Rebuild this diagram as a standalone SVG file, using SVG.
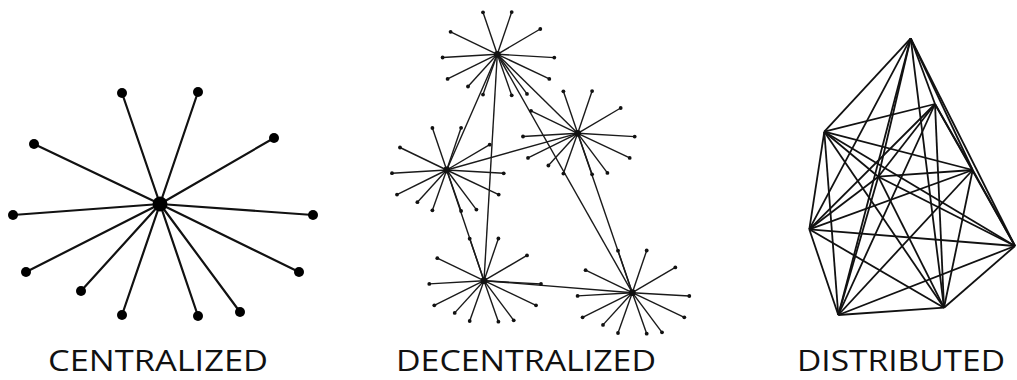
<svg xmlns="http://www.w3.org/2000/svg" xmlns:xlink="http://www.w3.org/1999/xlink" width="1017" height="380" viewBox="0 0 1017 380">
<style>
.bg{fill:#fff}
.c-line{stroke:#111;stroke-width:2.2;stroke-linecap:round}
.c-dot{fill:#000}
.d-line{stroke:#1a1a1a;stroke-width:1.4}
.d-dot{fill:#111}
.m-line{stroke:#111;stroke-width:1.8}
.label{font-family:"Open Sans","Liberation Sans",sans-serif;font-size:29px;fill:#111;text-anchor:middle}
</style>
<defs>
<g id="star">
<g class="d-line">
<line x1="0" y1="0" x2="-14.3" y2="-42"/>
<line x1="0" y1="0" x2="14.4" y2="-42.2"/>
<line x1="0" y1="0" x2="-46.7" y2="-22.5"/>
<line x1="0" y1="0" x2="43" y2="-25.3"/>
<line x1="0" y1="0" x2="-54.7" y2="3.2"/>
<line x1="0" y1="0" x2="57" y2="3.3"/>
<line x1="0" y1="0" x2="-49.7" y2="24.6"/>
<line x1="0" y1="0" x2="52" y2="24.6"/>
<line x1="0" y1="0" x2="-29.3" y2="32.2"/>
<line x1="0" y1="0" x2="-14.3" y2="40.3"/>
<line x1="0" y1="0" x2="14.4" y2="41"/>
<line x1="0" y1="0" x2="29.7" y2="39.6"/>
</g>
<g class="d-dot">
<circle cx="0" cy="0" r="3.4"/>
<circle cx="-14.3" cy="-42" r="1.9"/>
<circle cx="14.4" cy="-42.2" r="1.9"/>
<circle cx="-46.7" cy="-22.5" r="1.9"/>
<circle cx="43" cy="-25.3" r="1.9"/>
<circle cx="-54.7" cy="3.2" r="1.9"/>
<circle cx="57" cy="3.3" r="1.9"/>
<circle cx="-49.7" cy="24.6" r="1.9"/>
<circle cx="52" cy="24.6" r="1.9"/>
<circle cx="-29.3" cy="32.2" r="1.9"/>
<circle cx="-14.3" cy="40.3" r="1.9"/>
<circle cx="14.4" cy="41" r="1.9"/>
<circle cx="29.7" cy="39.6" r="1.9"/>
</g>
</g>
</defs>
<rect class="bg" x="0" y="0" width="1017" height="380"/>

<!-- CENTRALIZED -->
<g id="connectors-centralized" class="c-line">
<line x1="160" y1="204" x2="122" y2="93"/>
<line x1="160" y1="204" x2="198" y2="92"/>
<line x1="160" y1="204" x2="34" y2="144"/>
<line x1="160" y1="204" x2="274" y2="138"/>
<line x1="160" y1="204" x2="13" y2="215"/>
<line x1="160" y1="204" x2="313" y2="215"/>
<line x1="160" y1="204" x2="26" y2="272"/>
<line x1="160" y1="204" x2="299" y2="272"/>
<line x1="160" y1="204" x2="81" y2="291"/>
<line x1="160" y1="204" x2="122" y2="315"/>
<line x1="160" y1="204" x2="198" y2="316"/>
<line x1="160" y1="204" x2="240" y2="312"/>
</g>
<g id="c-hub" class="c-dot"><circle cx="160" cy="204" r="7.5"/></g>
<g id="c-leaves" class="c-dot">
<circle cx="122" cy="93" r="5"/>
<circle cx="198" cy="92" r="5"/>
<circle cx="34" cy="144" r="5"/>
<circle cx="274" cy="138" r="5"/>
<circle cx="13" cy="215" r="5"/>
<circle cx="313" cy="215" r="5"/>
<circle cx="26" cy="272" r="5"/>
<circle cx="299" cy="272" r="5"/>
<circle cx="81" cy="291" r="5"/>
<circle cx="122" cy="315" r="5"/>
<circle cx="198" cy="316" r="5"/>
<circle cx="240" cy="312" r="5"/>
</g>

<!-- DECENTRALIZED -->
<g id="connectors-decentralized" class="d-line">
<line x1="497.3" y1="54.3" x2="446.7" y2="170"/>
<line x1="497.3" y1="54.3" x2="484" y2="280.7"/>
<line x1="497.3" y1="54.3" x2="577.7" y2="133.3"/>
<line x1="497.3" y1="54.3" x2="632.3" y2="292.7"/>
<line x1="446.7" y1="170" x2="577.7" y2="133.3"/>
<line x1="446.7" y1="170" x2="484" y2="280.7"/>
<line x1="577.7" y1="133.3" x2="632.3" y2="292.7"/>
<line x1="484" y1="280.7" x2="632.3" y2="292.7"/>
</g>
<g id="hub1"><use xlink:href="#star" href="#star" transform="translate(497.3,54.3)"/></g>
<g id="hub2"><use xlink:href="#star" href="#star" transform="translate(446.7,170)"/></g>
<g id="hub3"><use xlink:href="#star" href="#star" transform="translate(577.7,133.3)"/></g>
<g id="hub4"><use xlink:href="#star" href="#star" transform="translate(484,280.7)"/></g>
<g id="hub5"><use xlink:href="#star" href="#star" transform="translate(632.3,292.7)"/></g>

<!-- DISTRIBUTED -->
<g id="connectors-distributed" class="m-line">
<line x1="910.7" y1="38.3" x2="935" y2="104"/>
<line x1="910.7" y1="38.3" x2="824.3" y2="131.7"/>
<line x1="910.7" y1="38.3" x2="972.7" y2="170"/>
<line x1="910.7" y1="38.3" x2="878.3" y2="176.7"/>
<line x1="910.7" y1="38.3" x2="809.3" y2="229.3"/>
<line x1="910.7" y1="38.3" x2="1015" y2="246"/>
<line x1="910.7" y1="38.3" x2="838.3" y2="315"/>
<line x1="910.7" y1="38.3" x2="944" y2="307.7"/>
<line x1="935" y1="104" x2="824.3" y2="131.7"/>
<line x1="935" y1="104" x2="972.7" y2="170"/>
<line x1="935" y1="104" x2="878.3" y2="176.7"/>
<line x1="935" y1="104" x2="809.3" y2="229.3"/>
<line x1="935" y1="104" x2="1015" y2="246"/>
<line x1="935" y1="104" x2="838.3" y2="315"/>
<line x1="935" y1="104" x2="944" y2="307.7"/>
<line x1="824.3" y1="131.7" x2="972.7" y2="170"/>
<line x1="824.3" y1="131.7" x2="878.3" y2="176.7"/>
<line x1="824.3" y1="131.7" x2="809.3" y2="229.3"/>
<line x1="824.3" y1="131.7" x2="1015" y2="246"/>
<line x1="824.3" y1="131.7" x2="838.3" y2="315"/>
<line x1="824.3" y1="131.7" x2="944" y2="307.7"/>
<line x1="972.7" y1="170" x2="878.3" y2="176.7"/>
<line x1="972.7" y1="170" x2="809.3" y2="229.3"/>
<line x1="972.7" y1="170" x2="1015" y2="246"/>
<line x1="972.7" y1="170" x2="838.3" y2="315"/>
<line x1="972.7" y1="170" x2="944" y2="307.7"/>
<line x1="878.3" y1="176.7" x2="809.3" y2="229.3"/>
<line x1="878.3" y1="176.7" x2="1015" y2="246"/>
<line x1="878.3" y1="176.7" x2="838.3" y2="315"/>
<line x1="878.3" y1="176.7" x2="944" y2="307.7"/>
<line x1="809.3" y1="229.3" x2="1015" y2="246"/>
<line x1="809.3" y1="229.3" x2="838.3" y2="315"/>
<line x1="809.3" y1="229.3" x2="944" y2="307.7"/>
<line x1="1015" y1="246" x2="838.3" y2="315"/>
<line x1="1015" y1="246" x2="944" y2="307.7"/>
<line x1="838.3" y1="315" x2="944" y2="307.7"/>
</g>

<!-- LABELS -->
<g id="labels">
<text class="label" x="158" y="371" textLength="220" lengthAdjust="spacingAndGlyphs">CENTRALIZED</text>
<text class="label" x="526" y="371" textLength="260" lengthAdjust="spacingAndGlyphs">DECENTRALIZED</text>
<text class="label" x="901" y="371" textLength="208" lengthAdjust="spacingAndGlyphs">DISTRIBUTED</text>
</g>
</svg>
